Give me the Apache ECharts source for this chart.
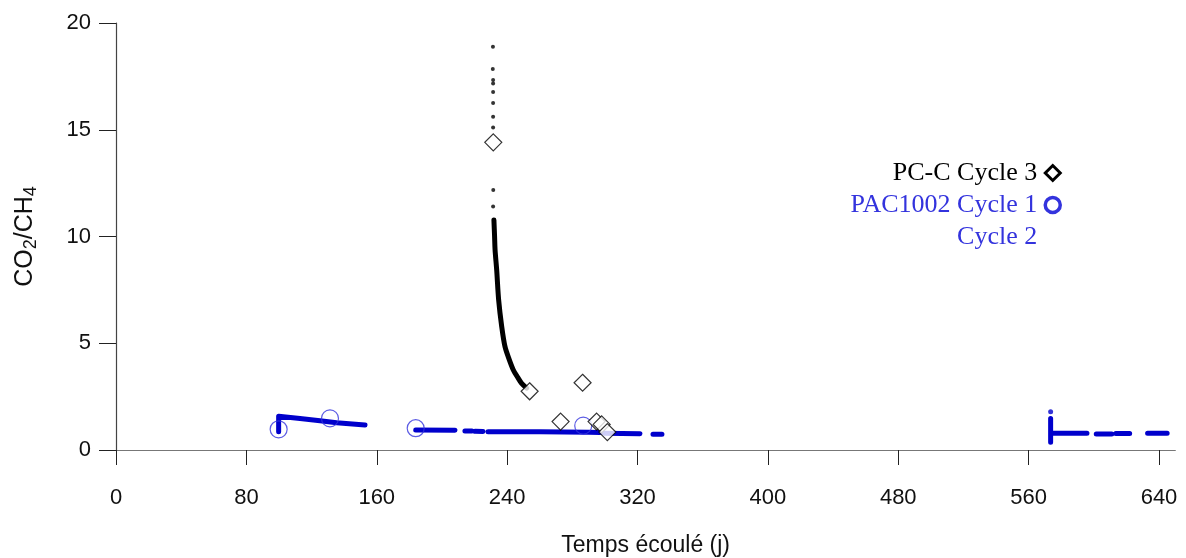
<!DOCTYPE html>
<html>
<head>
<meta charset="utf-8">
<script src="https://cdn.jsdelivr.net/npm/echarts@6/dist/echarts.min.js"></script>
<style>html,body{margin:0;padding:0;background:#fff}#c{width:1186px;height:558px}</style>
</head>
<body>
<div id="c"></div>
<script>
// ---- data ----
const xTicks = [0, 80, 160, 240, 320, 400, 480, 560, 640];
const yTicks = [0, 5, 10, 15, 20];

// PC-C Cycle 3 : discrete samples (diamonds)
const pccDiamonds = [[231.5,14.41],[253.8,2.75],[286.3,3.15],[272.8,1.33],[294.9,1.33],[298.0,1.20],[301.5,0.84]];
// PC-C Cycle 3 : sparse continuous readings (dots)
const pccDots = [[231.3,18.89],[231.2,17.85],[231.4,17.33],[231.4,17.17],[231.4,16.77],[231.4,16.25],[231.4,15.61],[231.4,15.11],[231.5,12.18],[231.4,11.40]];
// PC-C Cycle 3 : dense continuous readings (curve)
const pccCurve = [[231.9,10.77],[232.3,10.0],[232.6,9.37],[233.6,8.43],[234.8,7.03],[236.7,5.77],[238.7,4.84],[241.0,4.30],[243.8,3.75],[246.5,3.40],[248.9,3.12],[252.0,2.90]];

// PAC1002 Cycle 1 : discrete samples (circles)
const pacC1Circles = [[99.8,0.97],[131.3,1.48],[183.9,1.02],[286.7,1.14]];
// PAC1002 Cycle 1 : continuous readings (null = gap)
const pacC1Line = [[99.8,0.85],[99.8,1.58],[100.6,1.57],[112.9,1.48],[125.2,1.37],[135.4,1.28],[152.8,1.17],[null,null],
  [183.9,0.94],[208.0,0.93],[null,null],[214.1,0.89],[218.4,0.89],[null,null],[220.3,0.88],[225.2,0.87],[null,null],
  [228.3,0.86],[260.0,0.85],[290.0,0.83],[297.0,0.82],[null,null],[299.5,0.79],[321.5,0.76],[null,null],[329.5,0.74],[335.0,0.74]];
// PAC1002 Cycle 2 : continuous readings (null = gap)
const pacC2Line = [[573.5,0.36],[573.5,1.48],[null,null],[573.8,0.79],[595.8,0.79],[null,null],[601.5,0.75],[611.0,0.75],[null,null],
  [613.5,0.77],[622.0,0.77],[null,null],[633.0,0.78],[645.0,0.78]];
const pacC2Dots = [[573.5,1.79]];

const BLUE = '#0000cc';
const BLUE_LIGHT = '#3333dd';

const chart = echarts.init(document.getElementById('c'), null, {renderer: 'canvas'});
chart.setOption({
  animation: false,
  backgroundColor: '#fff',
  grid: {left: 116, top: 23, right: 10.7, bottom: 108, containLabel: false, outerBoundsMode: 'none'},
  xAxis: {
    type: 'value', min: 0, max: 650,
    name: 'Temps écoulé (j)', nameLocation: 'middle', nameGap: 84,
    nameTextStyle: {fontFamily: 'Liberation Sans', fontSize: 23, color: '#111'},
    axisLine: {onZero: false, lineStyle: {color: '#777', width: 1.2}},
    axisTick: {length: 15, lineStyle: {color: '#222', width: 1}, customValues: xTicks},
    axisLabel: {customValues: xTicks, margin: 37, fontFamily: 'Liberation Sans', fontSize: 22, color: '#111'},
    splitLine: {show: false}
  },
  yAxis: {
    type: 'value', min: 0, max: 20, interval: 5,
    name: '{m|CO}{s|2}{m|/CH}{s|4}', nameLocation: 'middle', nameGap: 76, nameRotate: 90,
    nameTextStyle: {
      rich: {
        m: {fontFamily: 'Liberation Sans', fontSize: 25, color: '#111', lineHeight: 30, verticalAlign: 'middle'},
        s: {fontFamily: 'Liberation Sans', fontSize: 18, color: '#111', lineHeight: 30, verticalAlign: 'bottom', padding: [10, 0, 0, 0]}
      }
    },
    axisLine: {show: true, onZero: false, lineStyle: {color: '#444', width: 1.2}},
    axisTick: {show: true, length: 17, lineStyle: {color: '#222', width: 1}},
    axisLabel: {margin: 25, fontFamily: 'Liberation Sans', fontSize: 22, color: '#111'},
    splitLine: {show: false}
  },
  legend: {
    orient: 'vertical', right: 119, top: 155, align: 'right',
    itemWidth: 15, itemHeight: 15, itemGap: 6,
    textStyle: {fontFamily: 'Liberation Serif', fontSize: 26, padding: [0, 3, 0, 0]},
    selectedMode: false,
    data: [
      {name: 'PC-C Cycle 3', icon: 'diamond', itemStyle: {color: '#fff', borderColor: '#000', borderWidth: 3}, textStyle: {color: '#000', padding: [0, 3, 0, 0]}},
      {name: 'PAC1002 Cycle 1', icon: 'circle', itemStyle: {color: '#fff', borderColor: BLUE_LIGHT, borderWidth: 3.5}, textStyle: {color: BLUE_LIGHT, padding: [0, 3, 0, 0]}},
      {name: 'Cycle 2', icon: 'rect', itemStyle: {opacity: 0}, textStyle: {color: BLUE_LIGHT, padding: [0, 3, 0, 0]}}
    ]
  },
  series: [
    {name: 'PAC1002 Cycle 1', type: 'line', data: pacC1Line, showSymbol: false, connectNulls: false,
     lineStyle: {color: BLUE, width: 5, cap: 'round', join: 'round'}, itemStyle: {color: BLUE}, z: 2},
    {name: 'Cycle 2', type: 'line', data: pacC2Line, showSymbol: false, connectNulls: false,
     lineStyle: {color: BLUE, width: 5, cap: 'round', join: 'round'}, itemStyle: {color: BLUE}, z: 2},
    {name: 'Cycle 2', type: 'scatter', data: pacC2Dots, symbol: 'circle', symbolSize: 5, itemStyle: {color: BLUE}, z: 2},
    {name: 'PAC1002 Cycle 1', type: 'scatter', data: pacC1Circles, symbol: 'circle', symbolSize: 17,
     itemStyle: {color: 'rgba(0,0,0,0)', borderColor: BLUE_LIGHT, borderWidth: 1.2}, z: 3},
    {name: 'PC-C Cycle 3', type: 'line', data: pccCurve, showSymbol: false, smooth: 0.3,
     lineStyle: {color: '#000', width: 5, cap: 'round', join: 'round'}, itemStyle: {color: '#000'}, z: 4},
    {name: 'PC-C Cycle 3', type: 'scatter', data: pccDots, symbol: 'circle', symbolSize: 4, itemStyle: {color: '#000'}, z: 4},
    {name: 'PC-C Cycle 3', type: 'scatter', data: pccDiamonds, symbol: 'diamond', symbolSize: 17,
     itemStyle: {color: '#fff', borderColor: '#000', borderWidth: 1.2}, z: 5}
  ]
});
</script>
</body>
</html>
